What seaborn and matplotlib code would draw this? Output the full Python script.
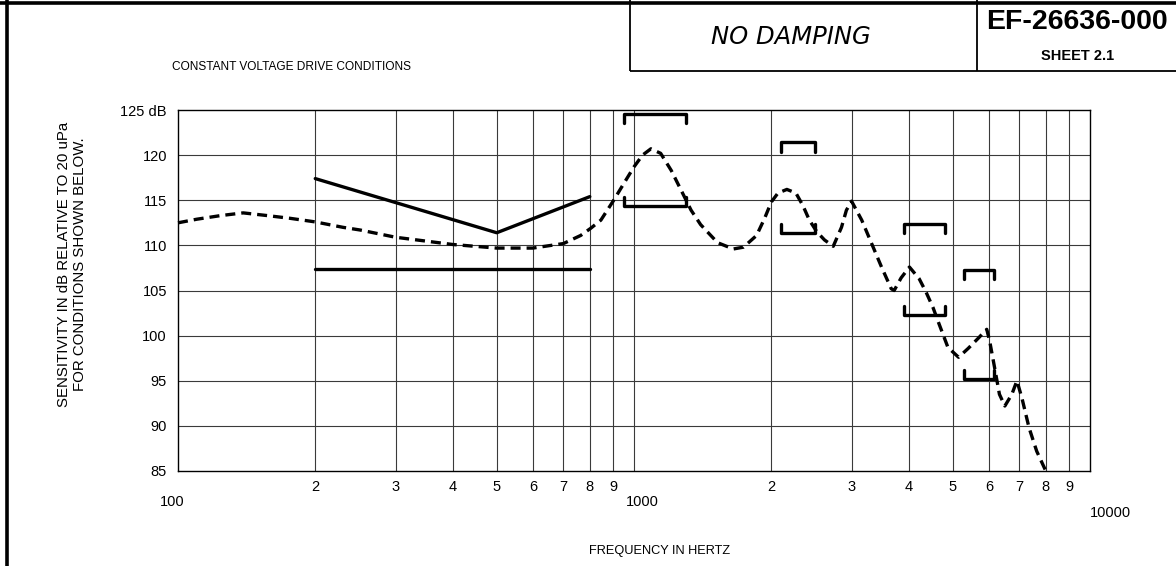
import numpy as np
import pandas as pd
import matplotlib
matplotlib.use("Agg")
import matplotlib.pyplot as plt
from matplotlib.lines import Line2D
import seaborn as sns

# ---------------- data ----------------
curve_freq = [100, 110, 124, 139, 157, 176, 200, 230, 251, 300, 400, 500, 600, 700,
              764, 804, 846, 900, 951, 1000, 1044, 1089, 1144, 1207, 1269, 1334, 1400,
              1461, 1525, 1651, 1738, 1857, 1934, 2000, 2069, 2164, 2265, 2347, 2424,
              2518, 2617, 2735, 2851, 2923, 3000, 3158, 3320, 3490, 3665, 3720, 3853,
              4018, 4221, 4372, 4527, 4666, 4880, 5150, 5410, 5685, 5937, 6025, 6180,
              6330, 6505, 6740, 6914, 7090, 7350, 7640, 8000]
curve_db = [112.5, 112.9, 113.3, 113.6, 113.3, 113.0, 112.6, 112.0, 111.7, 110.9,
            110.1, 109.7, 109.7, 110.2, 111.1, 111.9, 112.8, 114.9, 116.9, 118.7,
            120.0, 120.7, 120.2, 118.3, 116.1, 113.9, 112.3, 111.3, 110.3, 109.6,
            109.8, 111.1, 113.0, 114.8, 115.8, 116.2, 115.8, 114.4, 112.8, 111.5,
            110.6, 109.9, 112.0, 113.9, 114.9, 112.8, 110.2, 107.6, 105.2, 105.0,
            106.4, 107.6, 106.3, 104.8, 103.1, 101.3, 98.7, 97.6, 98.6, 99.7, 100.7,
            99.4, 96.4, 93.5, 92.2, 93.5, 95.0, 93.1, 89.8, 87.2, 85.0]

upper_freq = [200, 500, 800]
upper_db = [117.4, 111.4, 115.4]
lower_freq = [200, 800]
lower_db = [107.4, 107.4]

bracket_lo = [950, 2100, 3900, 5300]
bracket_hi = [1300, 2500, 4800, 6150]
bracket_top = [124.6, 121.4, 112.4, 107.3]
bracket_bot = [114.4, 111.4, 102.3, 95.2]

y_ticks = [85, 90, 95, 100, 105, 110, 115, 120, 125]
y_labels = ["85", "90", "95", "100", "105", "110", "115", "120", "125 dB"]
minor_ticks = [200, 300, 400, 500, 600, 700, 800, 900,
               2000, 3000, 4000, 5000, 6000, 7000, 8000, 9000]
minor_labels = ["2", "3", "4", "5", "6", "7", "8", "9"] * 2
decade_ticks = [100, 1000, 10000]
decade_labels = ["100", "1000", "10000"]

# ---------------- styling ----------------
sns.set_style("white")
FONT = ["Liberation Sans Narrow", "Liberation Sans", "DejaVu Sans"]
plt.rcParams["font.family"] = FONT
plt.rcParams["axes.linewidth"] = 1.0
plt.rcParams["text.color"] = "black"
plt.rcParams["ytick.labelcolor"] = "black"
plt.rcParams["ytick.color"] = "black"

W, H = 1176, 566
fig = plt.figure(figsize=(W / 100, H / 100), dpi=100)
fig.patch.set_facecolor("white")

x0, x1, ytop, ybot = 178, 1090, 110, 471
ax = fig.add_axes([x0 / W, 1 - ybot / H, (x1 - x0) / W, (ybot - ytop) / H])
ax.set_xscale("log")
ax.set_xlim(100, 10000)
ax.set_ylim(85, 125)

# grid
GRID = "#3a3a3a"
for f in minor_ticks + [1000]:
    ax.axvline(f, color=GRID, lw=0.8, zorder=1)
for d in y_ticks[1:-1]:
    ax.axhline(d, color=GRID, lw=0.8, zorder=1)
for s in ax.spines.values():
    s.set_color("black")
    s.set_linewidth(1.0)

LW = 2.4
df_curve = pd.DataFrame({"f": curve_freq, "db": curve_db})
sns.lineplot(data=df_curve, x="f", y="db", ax=ax, color="black", lw=LW,
             linestyle=(0, (3.0, 1.8)), sort=False, estimator=None, zorder=3,
             clip_on=False)
sns.lineplot(x=upper_freq, y=upper_db, ax=ax, color="black", lw=LW, sort=False,
             estimator=None, zorder=3)
sns.lineplot(x=lower_freq, y=lower_db, ax=ax, color="black", lw=LW, sort=False,
             estimator=None, zorder=3)

TICK = 1.0
for lo, hi, top, bot in zip(bracket_lo, bracket_hi, bracket_top, bracket_bot):
    sns.lineplot(x=[lo, lo, hi, hi], y=[top - TICK, top, top, top - TICK], ax=ax,
                 color="black", lw=LW, sort=False, estimator=None, zorder=3,
                 clip_on=False)
    sns.lineplot(x=[lo, lo, hi, hi], y=[bot + TICK, bot, bot, bot + TICK], ax=ax,
                 color="black", lw=LW, sort=False, estimator=None, zorder=3)

ax.set_xlabel("")
ax.set_ylabel("")

TS = 10.5
# y ticks
ax.set_yticks(y_ticks)
ax.set_yticklabels(y_labels, fontsize=TS)
ax.tick_params(axis="y", length=0, pad=8)
# x ticks
ax.set_xticks([])
ax.set_xticks([], minor=True)
for f, lab in zip(minor_ticks, minor_labels):
    ax.annotate(lab, xy=(f, 0), xycoords=("data", "axes fraction"),
                xytext=(0, -16), textcoords="offset pixels", ha="center",
                va="center", fontsize=TS)
dec_off = [(-6, -31), (8, -31), (20, -42)]
for f, lab, (dx, dy) in zip(decade_ticks, decade_labels, dec_off):
    ax.annotate(lab, xy=(f, 0), xycoords=("data", "axes fraction"),
                xytext=(dx, dy), textcoords="offset pixels", ha="center",
                va="center", fontsize=TS)

# axis titles
fig.text(660 / W, 1 - 551 / H, "FREQUENCY IN HERTZ", ha="center", va="center",
         fontsize=9.2)
fig.text(72 / W, 1 - 264 / H,
         "SENSITIVITY IN dB RELATIVE TO 20 uPa\nFOR CONDITIONS SHOWN BELOW.",
         rotation=90, ha="center", va="center", fontsize=10.8, linespacing=1.25,
         multialignment="center")
fig.text(291 / W, 1 - 67 / H, "CONSTANT VOLTAGE DRIVE CONDITIONS", ha="center",
         va="center", fontsize=8.6)

# title block
fig.text(791 / W, 1 - 37 / H, "NO DAMPING", ha="center", va="center",
         fontsize=17.5, style="italic", family=["DejaVu Sans"], fontweight="light")
fig.text(1077 / W, 1 - 22 / H, "EF-26636-000", ha="center", va="center",
         fontsize=20.5, fontweight="bold")
fig.text(1078 / W, 1 - 56 / H, "SHEET 2.1", ha="center", va="center",
         fontsize=10.5, fontweight="bold")


def fline(xs, ys, lw):
    fig.add_artist(Line2D([x / W for x in xs], [1 - y / H for y in ys],
                          color="black", lw=lw, solid_capstyle="butt"))


fline([0, W], [2.5, 2.5], 2.6)
fline([7, 7], [0, H], 2.6)
fline([630, 630], [0, 71], 1.3)
fline([630, W], [71, 71], 1.3)
fline([977, 977], [0, 71], 1.3)

fig.savefig("out.png", dpi=100, facecolor="white")
